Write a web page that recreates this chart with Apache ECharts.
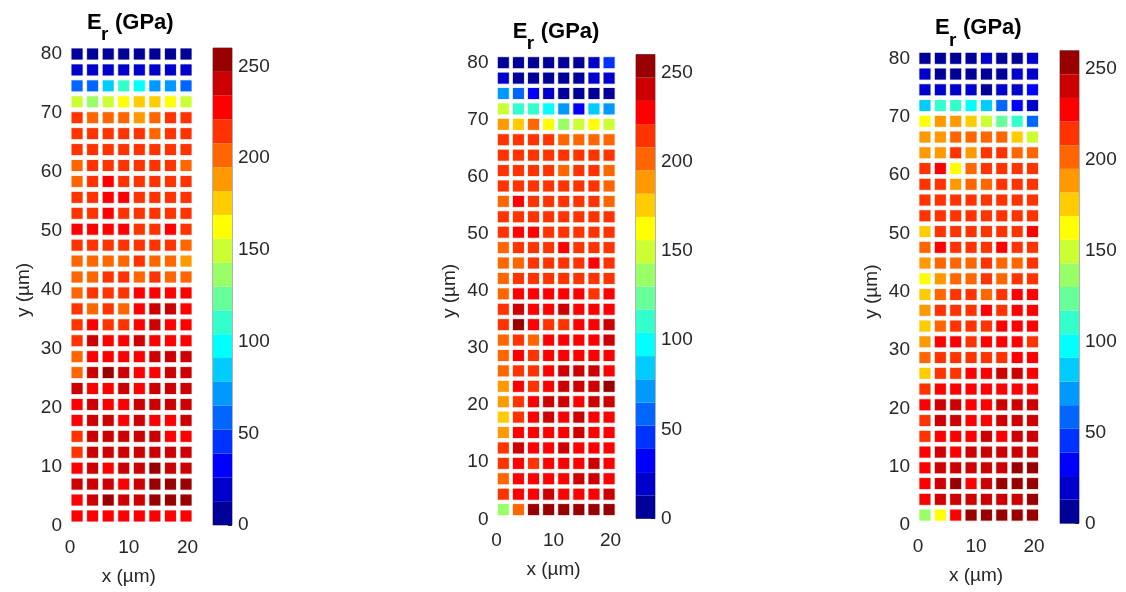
<!DOCTYPE html>
<html>
<head>
<meta charset="utf-8">
<script src="https://cdn.jsdelivr.net/npm/echarts@6/dist/echarts.min.js"></script>
<style>
  html, body { margin: 0; padding: 0; background: #fff; }
  #main { width: 1126px; height: 592px; }
</style>
</head>
<body>
<div id="main"></div>
<script>
// measurement grid (µm)
const xPos = [1.2, 3.85, 6.5, 9.15, 11.8, 14.45, 17.1, 19.75];
const yPos = [80, 77.3, 74.6, 71.9, 69.2, 66.5, 63.8, 61.1, 58.4, 55.7, 53, 50.3, 47.6, 44.9, 42.2,
  39.5, 36.8, 34.1, 31.4, 28.7, 26, 23.3, 20.6, 17.9, 15.2, 12.5, 9.8, 7.1, 4.4, 1.7];

// colour scale: 0..260 GPa in 20 steps
const cMin = 0;
const cMax = 260;
const jetColors = ["#000099", "#0000cc", "#0000ff", "#0033ff", "#0066ff", "#0099ff", "#00ccff",
  "#00ffff", "#33ffcc", "#66ff99", "#99ff66", "#ccff33", "#ffff00", "#ffcc00", "#ff9900",
  "#ff6600", "#ff3300", "#ff0000", "#cc0000", "#990000"];

// E_r (GPa), rows from y = 80 down to y = 1.7, columns left to right
const er1 = [
  [6, 6, 6, 6, 6, 6, 6, 6],
  [19, 19, 19, 19, 19, 19, 19, 19],
  [58, 58, 84, 110, 97, 71, 71, 58],
  [149, 136, 149, 162, 175, 175, 162, 149],
  [214, 201, 201, 201, 188, 201, 214, 214],
  [214, 214, 214, 214, 214, 201, 214, 214],
  [214, 214, 214, 214, 214, 214, 214, 214],
  [201, 214, 214, 214, 214, 214, 214, 201],
  [201, 214, 227, 214, 214, 214, 214, 214],
  [214, 214, 227, 227, 214, 214, 214, 214],
  [214, 214, 227, 214, 214, 214, 214, 214],
  [227, 227, 227, 227, 214, 214, 227, 214],
  [214, 214, 214, 214, 214, 214, 214, 201],
  [201, 201, 201, 201, 214, 201, 201, 188],
  [201, 201, 214, 214, 201, 214, 201, 201],
  [201, 214, 214, 214, 227, 227, 227, 227],
  [214, 201, 214, 201, 227, 240, 240, 227],
  [214, 227, 214, 214, 227, 240, 227, 227],
  [214, 240, 227, 227, 240, 227, 227, 227],
  [201, 227, 227, 227, 227, 240, 240, 240],
  [201, 240, 253, 240, 227, 227, 240, 240],
  [240, 227, 227, 240, 227, 240, 240, 240],
  [227, 240, 227, 227, 240, 240, 240, 240],
  [227, 240, 240, 227, 240, 227, 227, 240],
  [214, 240, 240, 240, 240, 240, 227, 227],
  [214, 240, 240, 240, 240, 240, 240, 240],
  [227, 240, 227, 240, 240, 253, 240, 240],
  [240, 240, 240, 227, 240, 253, 253, 253],
  [227, 240, 253, 240, 240, 253, 253, 253],
  [227, 227, 227, 227, 227, 227, 227, 227],
];

const er2 = [
  [6, 6, 6, 6, 6, 6, 19, 45],
  [19, 6, 6, 6, 6, 6, 19, 19],
  [71, 58, 32, 19, 6, 6, 6, 6],
  [149, 110, 110, 97, 71, 32, 84, 71],
  [188, 175, 201, 162, 136, 149, 162, 149],
  [214, 214, 214, 214, 201, 201, 201, 201],
  [214, 214, 214, 214, 214, 214, 214, 214],
  [214, 214, 214, 214, 201, 214, 214, 201],
  [214, 214, 214, 214, 214, 214, 214, 201],
  [201, 227, 214, 214, 214, 214, 214, 201],
  [214, 214, 214, 214, 214, 214, 214, 214],
  [214, 227, 227, 214, 214, 214, 214, 214],
  [201, 214, 214, 214, 227, 214, 214, 214],
  [201, 201, 214, 214, 214, 214, 227, 214],
  [201, 214, 214, 214, 214, 214, 214, 214],
  [201, 227, 227, 227, 227, 227, 214, 227],
  [214, 240, 227, 227, 240, 227, 227, 227],
  [214, 253, 227, 214, 214, 227, 227, 240],
  [201, 214, 201, 227, 227, 227, 227, 240],
  [201, 227, 214, 227, 227, 227, 227, 227],
  [201, 214, 214, 227, 240, 240, 240, 227],
  [188, 227, 214, 227, 240, 240, 240, 253],
  [188, 214, 227, 240, 240, 227, 240, 240],
  [175, 214, 227, 240, 227, 240, 227, 227],
  [188, 227, 227, 227, 227, 240, 227, 227],
  [214, 240, 227, 227, 240, 227, 227, 227],
  [214, 227, 214, 227, 227, 227, 240, 227],
  [201, 227, 227, 227, 227, 240, 240, 227],
  [214, 227, 227, 240, 227, 227, 227, 240],
  [136, 201, 253, 253, 253, 253, 253, 253],
];

const er3 = [
  [6, 6, 6, 6, 19, 6, 6, 19],
  [19, 6, 6, 6, 6, 6, 19, 19],
  [19, 19, 19, 19, 6, 19, 19, 32],
  [84, 110, 110, 97, 84, 58, 32, 19],
  [162, 188, 188, 175, 149, 123, 110, 58],
  [188, 188, 201, 201, 201, 201, 175, 149],
  [188, 188, 214, 188, 214, 214, 201, 201],
  [214, 227, 162, 201, 214, 214, 214, 214],
  [214, 214, 188, 201, 201, 214, 214, 214],
  [214, 214, 214, 214, 214, 214, 214, 214],
  [214, 214, 214, 214, 214, 214, 214, 214],
  [175, 214, 214, 214, 214, 214, 214, 227],
  [201, 227, 214, 214, 214, 227, 214, 214],
  [188, 201, 201, 201, 214, 201, 201, 214],
  [162, 188, 201, 201, 214, 201, 214, 214],
  [175, 201, 214, 214, 201, 214, 227, 227],
  [188, 214, 214, 214, 227, 214, 227, 227],
  [175, 201, 214, 214, 214, 227, 227, 227],
  [188, 227, 227, 214, 227, 227, 227, 214],
  [201, 214, 214, 214, 214, 214, 227, 227],
  [175, 214, 214, 227, 227, 240, 240, 227],
  [214, 227, 227, 227, 227, 227, 227, 227],
  [227, 240, 240, 227, 227, 240, 240, 240],
  [214, 240, 240, 227, 227, 240, 240, 240],
  [214, 227, 227, 227, 240, 227, 240, 240],
  [227, 240, 227, 240, 240, 240, 240, 240],
  [227, 240, 240, 240, 240, 240, 253, 253],
  [227, 240, 253, 227, 240, 253, 253, 253],
  [227, 240, 240, 240, 240, 240, 240, 253],
  [136, 162, 227, 253, 253, 253, 253, 253],
];

const panelData = [er1, er2, er3];

// pixel layout of each panel (plot box, colour bar, title anchor)
const layout = [
  { left: 70, top: 54, width: 117.5, height: 472, cbLeft: 213, cbTop: 48, cbHeight: 477, tx: 87, ty: 22.5 },
  { left: 496.5, top: 62.7, width: 114, height: 456.6, cbLeft: 636, cbTop: 54.5, cbHeight: 464, tx: 512.7, ty: 32 },
  { left: 918, top: 58.3, width: 116, height: 466.7, cbLeft: 1060, cbTop: 50.7, cbHeight: 472.6, tx: 935, ty: 28.3 },
];

const FONT = '"Liberation Sans", Arial, sans-serif';
const TEXT = "#262626";

function toPoints(rows) {
  return rows.flatMap((row, i) => row.map((v, j) => [xPos[j], yPos[i], v]));
}

function buildOption() {
  const grid = [];
  const xAxis = [];
  const yAxis = [];
  const series = [];
  const graphic = [];
  const step = (cMax - cMin) / jetColors.length;

  layout.forEach((p, k) => {
    grid.push({ left: p.left, top: p.top, width: p.width, height: p.height });
    xAxis.push({
      gridIndex: k, type: "value", min: 0, max: 20, interval: 10,
      axisLine: { show: false }, axisTick: { show: false }, splitLine: { show: false },
      axisLabel: { fontSize: 19, color: TEXT, fontFamily: FONT, margin: 12 },
      name: "x (µm)", nameLocation: "middle", nameGap: 41,
      nameTextStyle: { fontSize: 19, color: TEXT, fontFamily: FONT },
    });
    yAxis.push({
      gridIndex: k, type: "value", min: 0, max: 80, interval: 10,
      axisLine: { show: false }, axisTick: { show: false }, splitLine: { show: false },
      axisLabel: { fontSize: 19, color: TEXT, fontFamily: FONT, margin: 8 },
      name: "y (µm)", nameLocation: "middle", nameGap: 37, nameRotate: 90,
      nameTextStyle: { fontSize: 19, color: TEXT, fontFamily: FONT },
    });
    series.push({
      type: "scatter", xAxisIndex: k, yAxisIndex: k,
      symbol: "rect", symbolSize: 12, clip: false, silent: true,
      itemStyle: { borderColor: "#fff", borderWidth: 0.8, opacity: 1 },
      data: toPoints(panelData[k]),
    });

    // title  E_r (GPa)
    graphic.push(
      { type: "text", x: p.tx, y: p.ty, style: { text: "E", font: "bold 22px " + FONT, fill: "#000", align: "left", verticalAlign: "middle" } },
      { type: "text", x: p.tx + 14, y: p.ty + 12, style: { text: "r", font: "bold 19px " + FONT, fill: "#000", align: "left", verticalAlign: "middle" } },
      { type: "text", x: p.tx + 28, y: p.ty, style: { text: "(GPa)", font: "bold 22px " + FONT, fill: "#000", align: "left", verticalAlign: "middle" } }
    );
  });

  // colour bars
  layout.forEach((p, k) => {
    const g = 3 + k;
    grid.push({
      left: p.cbLeft, top: p.cbTop, width: 19, height: p.cbHeight,
      show: true, borderColor: "#444", borderWidth: 0.8, backgroundColor: "transparent",
    });
    xAxis.push({ gridIndex: g, type: "category", data: ["E"], show: false });
    yAxis.push({
      gridIndex: g, type: "value", position: "right", min: cMin, max: cMax, interval: 50,
      axisLine: { show: false }, splitLine: { show: false },
      axisTick: { show: true, inside: true, length: 4, lineStyle: { color: TEXT } },
      axisLabel: { fontSize: 19, color: TEXT, fontFamily: FONT, margin: 6, showMaxLabel: false },
    });
    jetColors.forEach((c) => {
      series.push({
        type: "bar", xAxisIndex: g, yAxisIndex: g, stack: "cb" + k,
        barWidth: "100%", silent: true, itemStyle: { color: c },
        data: [step],
      });
    });
  });

  return {
    animation: false,
    backgroundColor: "#fff",
    grid, xAxis, yAxis, series, graphic,
    visualMap: {
      type: "piecewise", show: false, seriesIndex: [0, 1, 2], dimension: 2,
      pieces: jetColors.map((c, i) => ({ gte: cMin + i * step, lt: cMin + (i + 1) * step, color: c })),
    },
  };
}

function onLoad() {
  const chart = echarts.init(document.getElementById("main"));
  chart.setOption(buildOption());
}

addEventListener("load", onLoad);
</script>
</body>
</html>
